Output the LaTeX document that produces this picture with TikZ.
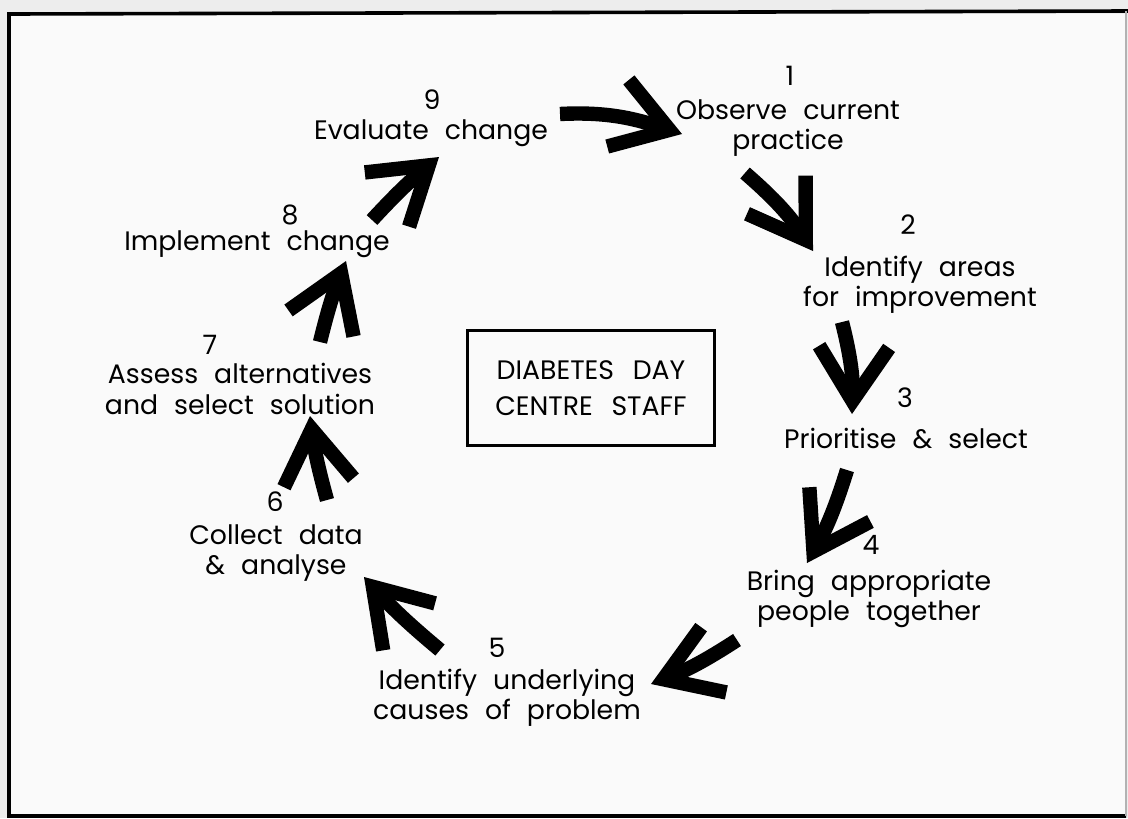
\documentclass[tikz,border=0pt]{standalone}
\usepackage{fontspec}
\setmainfont{Poppins}
\usetikzlibrary{arrows.meta}
\newcommand{\widespace}[1]{\spaceskip=#1 plus 0.1em\relax}
\begin{document}
\begin{tikzpicture}[x=0.025cm, y=-0.025cm,
    steptext/.style={font=\fontsize{19}{21.5}\selectfont,
      execute at begin node={\widespace{0.6em}},
      align=center, inner sep=0pt},
    stepnum/.style={font=\fontsize{19}{21.5}\selectfont, inner sep=0pt},
    fatarrow/.style={line width=0.36cm,
      -{Straight Barb[length=1.35cm, width=1.75cm]}}]
  \useasboundingbox (0,0) rectangle (1128,818);
  % scanned page and frame
  \fill[gray!14] (0,0) rectangle (1128,818);
  \fill[gray!4] (9,14) rectangle (1126,816);
  \draw[line width=0.9mm] (1126,816) -- (9,816) -- (9,14) -- (1128,11);
  \draw[line width=0.3mm, gray!60] (1126,11) -- (1126,816);

  % the steps
  \node[stepnum] (num1) at (790,76) {1};
  \node[steptext] (obs) at (788,128) {Observe current\\practice};
  \node[stepnum] (num2) at (908,225) {2};
  \node[steptext] (areas) at (920,285) {Identify areas\\for improvement};
  \node[stepnum] (num3) at (905,398) {3};
  \node[steptext] (prio) at (906,438) {Prioritise \& select};
  \node[stepnum] (num4) at (871,545) {4};
  \node[steptext] (bring) at (869,599) {Bring appropriate\\people together};
  \node[stepnum] (num5) at (497,648) {5};
  \node[steptext] (causes) at (507,698) {Identify underlying\\causes of problem};
  \node[stepnum] (num6) at (275,502) {6};
  \node[steptext] (collect) at (276,553) {Collect data\\\& analyse};
  \node[stepnum] (num7) at (210,345) {7};
  \node[steptext] (assess) at (240,389) {Assess alternatives\\and select solution};
  \node[stepnum] (num8) at (290,215) {8};
  \node[steptext] (impl) at (257,244) {Implement change};
  \node[stepnum] (num9) at (432,100) {9};
  \node[steptext] (eval) at (431,133) {Evaluate change};

  % centre box
  \node[draw, line width=0.6mm, minimum width=6.175cm, minimum height=2.875cm,
    steptext, font=\fontsize{19}{26}\selectfont,
    execute at begin node={\widespace{0.7em}}]
    (staff) at (591,388) {DIABETES DAY\\CENTRE STAFF};

  % arrow ends
  \coordinate (t91) at (560,114);  \coordinate (h91) at (682,134);
  \coordinate (t12) at (745,173);  \coordinate (h12) at (813,251);
  \coordinate (t23) at (842,322);  \coordinate (h23) at (852,414);
  \coordinate (t34) at (847,470);  \coordinate (h34) at (807,563);
  \coordinate (t45) at (737,640);  \coordinate (h45) at (651,684);
  \coordinate (t56) at (440,650);  \coordinate (h56) at (364,577);
  \coordinate (t67) at (327,500);  \coordinate (h67) at (310,416);
  \coordinate (t78) at (320,342);  \coordinate (h78) at (346,261);
  \coordinate (t89) at (372,220);  \coordinate (h89) at (439,157);

  \draw[fatarrow] (t91) to[out=3, in=162] (h91);
  \draw[fatarrow] (t12) to[bend left=8] (h12);
  \draw[fatarrow] (t23) to[bend left=8] (h23);
  \draw[fatarrow] (t34) to[bend left=6] (h34);
  \draw[fatarrow] (t45) to[bend left=6] (h45);
  \draw[fatarrow] (t56) to[bend left=4] (h56);
  \draw[fatarrow] (t67) to[bend left=4] (h67);
  \draw[fatarrow] (t78) to[bend left=4] (h78);
  \draw[fatarrow] (t89) to[bend left=4] (h89);
\end{tikzpicture}
\end{document}
